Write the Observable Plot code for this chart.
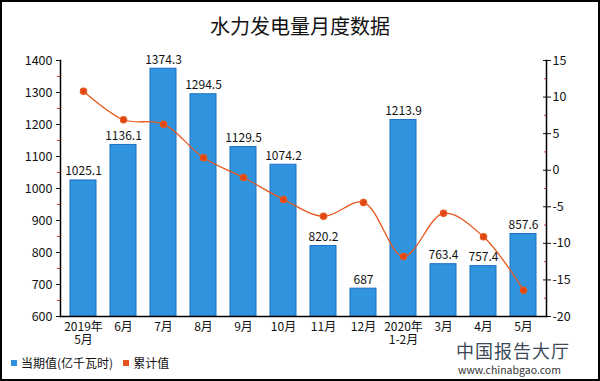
<!DOCTYPE html>
<html><head><meta charset="utf-8">
<script src="https://cdn.jsdelivr.net/npm/d3@7"></script>
<script src="https://cdn.jsdelivr.net/npm/@observablehq/plot@0.6"></script>
<style>
body{margin:0;background:#fff;font-family:"Noto Sans CJK SC","Noto Sans",sans-serif;}
#wrap{position:relative;width:600px;height:381px;overflow:hidden;}
#border{position:absolute;left:0;top:0;width:600px;height:381px;box-sizing:border-box;border:2px solid #000;pointer-events:none;}
#title{position:absolute;left:0;top:14px;width:600px;text-align:center;font-size:20px;line-height:24px;color:#111;}
#chart{position:absolute;left:0;top:0;}
#legend{position:absolute;left:11px;top:354px;font-size:12px;color:#111;display:flex;align-items:center;}
.sw{display:inline-block;width:6px;height:6px;margin-right:4px;}
#wm1{position:absolute;left:456px;top:341px;font-size:18px;letter-spacing:1px;line-height:19px;color:#3c4a58;}
#wm2{position:absolute;left:458px;top:364px;font-size:10.5px;line-height:11px;color:#333;}
</style></head>
<body>
<div id="wrap">
<div id="chart"></div>
<div id="title">水力发电量月度数据</div>
<div id="legend"><span class="sw" style="background:#2f8fdc"></span>当期值(亿千瓦时)<span style="width:10px;display:inline-block"></span><span class="sw" style="background:#e2521b"></span>累计值</div>
<div id="wm1">中国报告大厅</div><div id="wm2">www.chinabgao.com</div>
<div id="border"></div>
</div>
<script>
const months = ["2019年\n5月","6月","7月","8月","9月","10月","11月","12月","2020年\n1-2月","3月","4月","5月"];
const currentValues = [1025.1,1136.1,1374.3,1294.5,1129.5,1074.2,820.2,687,1213.9,763.4,757.4,857.6];
const cumulativeValues = [10.8,6.9,6.3,1.7,-1.0,-4.0,-6.3,-4.4,-11.8,-5.9,-9.1,-16.4];
const leftTicks = [600,700,800,900,1000,1100,1200,1300,1400];
const rightTicks = [-20,-15,-10,-5,0,5,10,15];

const leftDomain = [600,1400], rightDomain = [-20,15];
const toLeft = v => leftDomain[0] + (v - rightDomain[0]) * (leftDomain[1]-leftDomain[0]) / (rightDomain[1]-rightDomain[0]);
const fromLeft = y => rightDomain[0] + (y - leftDomain[0]) * (rightDomain[1]-rightDomain[0]) / (leftDomain[1]-leftDomain[0]);

const data = months.map((m,i)=>({month:m, value:currentValues[i], cum:cumulativeValues[i]}));
const leftMinor = leftTicks.slice(0,-1).map(t=>t+50);
const rightMinor = rightTicks.slice(0,-1).map(t=>toLeft(t+2.5));

const chart = Plot.plot({
  width:600, height:381,
  marginTop:60, marginBottom:65, marginLeft:60, marginRight:54,
  style:{fontFamily:'"Noto Sans CJK SC","Noto Sans",sans-serif', fontSize:"12px", color:"#111", background:"transparent"},
  x:{domain:months, paddingInner:0.35, paddingOuter:0.175, axis:null},
  y:{domain:leftDomain, axis:null},
  marks:[
    Plot.barY(data,{x:"month", y1:600, y2:"value", fill:"#3095de", stroke:"#1a6fc6", strokeWidth:1}),
    Plot.text(data,{x:"month", y:"value", text:d=>String(d.value), dy:-9, fontSize:12, fill:"#111"}),
    Plot.line(data,{x:"month", y:d=>toLeft(d.cum), curve:"catmull-rom", stroke:"#e8561c", strokeWidth:1.3}),
    Plot.dot(data,{x:"month", y:d=>toLeft(d.cum), r:3, fill:"#dc4514", stroke:"#e8561c"}),
    Plot.axisX({tickSize:0, tickPadding:5, fontSize:12, lineHeight:1.1, label:null}),
    Plot.axisY({ticks:leftTicks, tickSize:4, tickPadding:4, fontSize:12.5, label:null, tickFormat:d=>String(d)}),
    Plot.axisY({ticks:leftMinor, tickSize:3, stroke:"#e03c3c", tickFormat:()=>"", label:null}),
    Plot.axisY({anchor:"right", ticks:rightTicks.map(toLeft), tickSize:4, tickPadding:2, fontSize:12.5, label:null, tickFormat:d=>String(Math.round(fromLeft(d)))}),
    Plot.axisY({anchor:"right", ticks:rightTicks.map(toLeft), tickSize:-4, tickFormat:()=>"", label:null}),
    Plot.axisY({anchor:"right", ticks:rightMinor, tickSize:-3, stroke:"#e03c3c", tickFormat:()=>"", label:null}),
    Plot.frame({anchor:"left", stroke:"#000", strokeWidth:1.5}),
    Plot.frame({anchor:"right", stroke:"#000", strokeWidth:1.5}),
    Plot.frame({anchor:"bottom", stroke:"#000", strokeWidth:1.5})
  ]
});
document.getElementById("chart").appendChild(chart);
</script>
</body></html>
